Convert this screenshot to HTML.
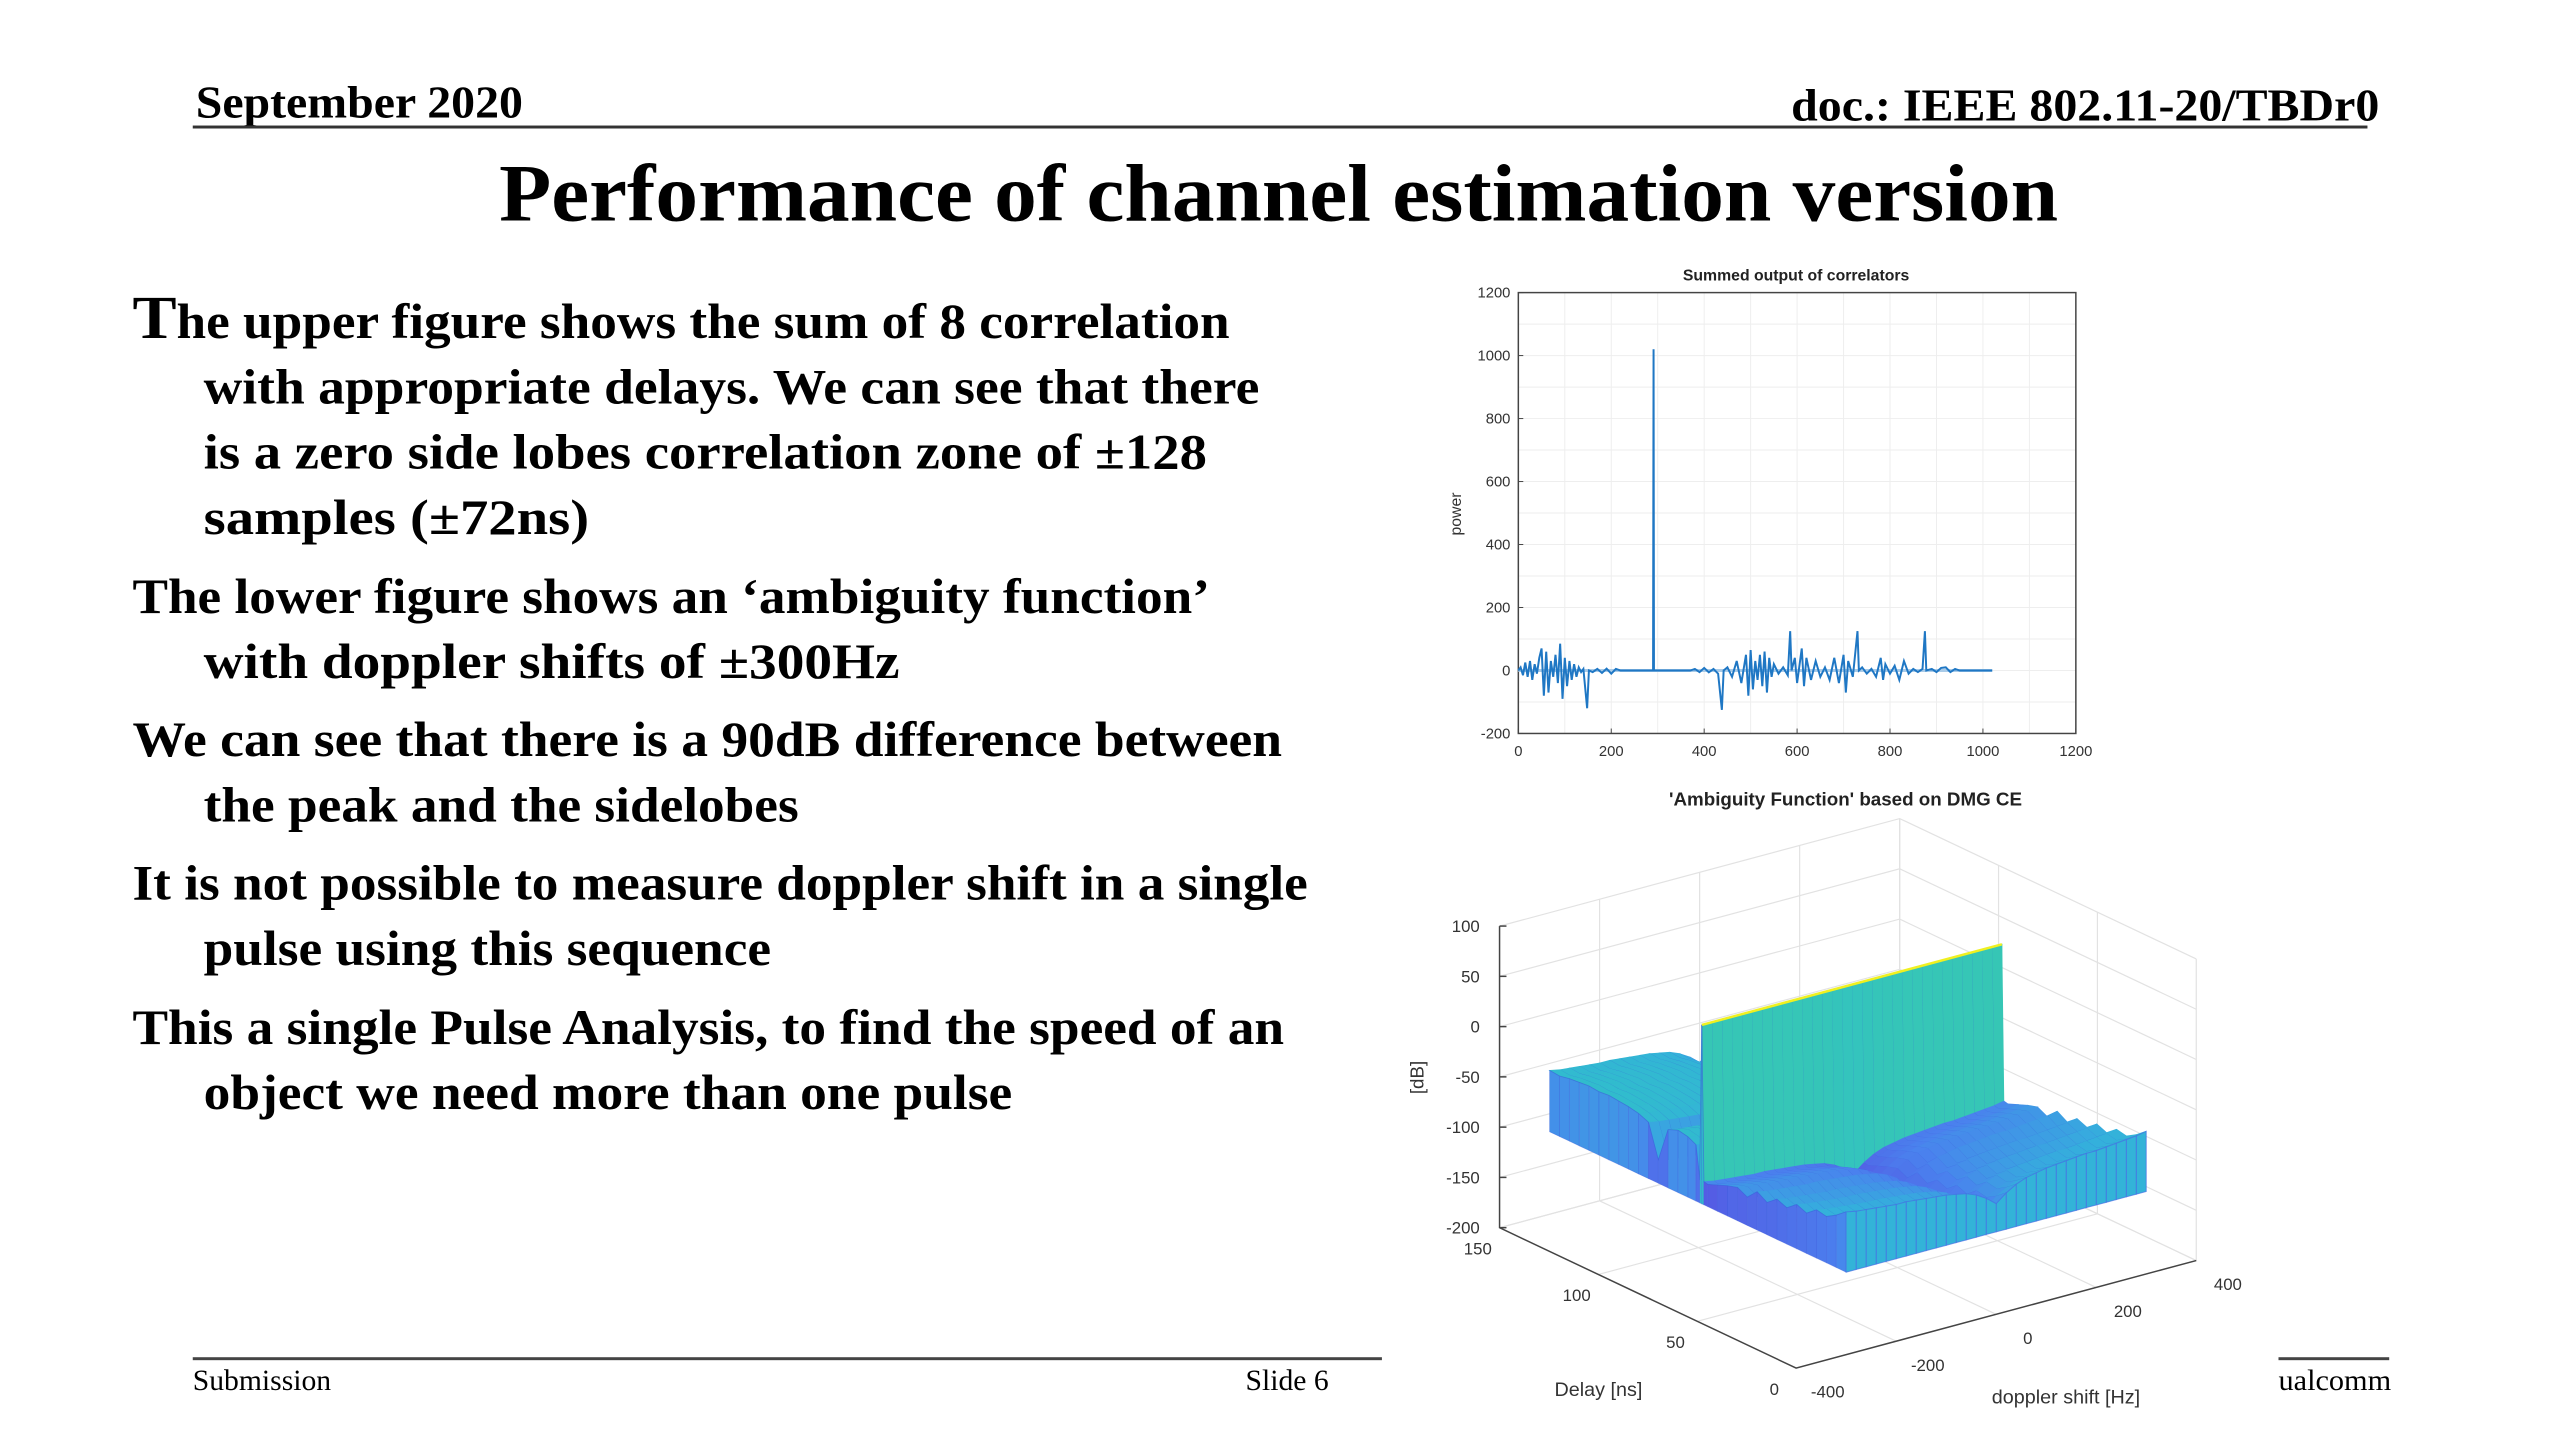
<!DOCTYPE html>
<html><head><meta charset="utf-8"><style>
html,body{margin:0;padding:0;background:#fff;}
svg{display:block;}
.ser{font-family:"Liberation Serif",serif;}
.sans{font-family:"Liberation Sans",sans-serif;}
</style></head><body>
<svg id="page" width="2560" height="1440" viewBox="0 0 2560 1440" xmlns="http://www.w3.org/2000/svg">
<rect width="2560" height="1440" fill="#fff"/>
<g transform="scale(0.9885)">
<g class="ser">
<text x="198" y="119" font-size="46" font-weight="bold" textLength="331" lengthAdjust="spacingAndGlyphs">September 2020</text>
<text x="1812" y="122" font-size="46" font-weight="bold" textLength="595" lengthAdjust="spacingAndGlyphs">doc.: IEEE 802.11-20/TBDr0</text>
<rect x="195" y="127" width="2200" height="3" fill="#333"/>
<text x="505" y="223" font-size="82" font-weight="bold" textLength="1577" lengthAdjust="spacingAndGlyphs">Performance of channel estimation version</text>
</g>
<g class="ser" font-weight="bold" font-size="50">
<text x="134" y="342" textLength="1110" lengthAdjust="spacingAndGlyphs"><tspan font-size="62">T</tspan>he upper figure shows the sum of 8 correlation</text>
<text x="206" y="408" textLength="1068" lengthAdjust="spacingAndGlyphs">with appropriate delays. We can see that there</text>
<text x="206" y="474" textLength="1015" lengthAdjust="spacingAndGlyphs">is a zero side lobes correlation zone of ±128</text>
<text x="206" y="540" textLength="390" lengthAdjust="spacingAndGlyphs">samples (±72ns)</text>
<text x="134" y="620" textLength="1090" lengthAdjust="spacingAndGlyphs">The lower figure shows an ‘ambiguity function’</text>
<text x="206" y="686" textLength="704" lengthAdjust="spacingAndGlyphs">with doppler shifts of ±300Hz</text>
<text x="134" y="765" textLength="1163" lengthAdjust="spacingAndGlyphs">We can see that there is a 90dB difference between</text>
<text x="206" y="831" textLength="602" lengthAdjust="spacingAndGlyphs">the peak and the sidelobes</text>
<text x="134" y="910" textLength="1189" lengthAdjust="spacingAndGlyphs">It is not possible to measure doppler shift in a single</text>
<text x="206" y="976" textLength="574" lengthAdjust="spacingAndGlyphs">pulse using this sequence</text>
<text x="134" y="1056" textLength="1165" lengthAdjust="spacingAndGlyphs">This a single Pulse Analysis, to find the speed of an</text>
<text x="206" y="1122" textLength="818" lengthAdjust="spacingAndGlyphs">object we need more than one pulse</text>
</g>
<g class="ser" font-size="30">
<rect x="195" y="1373" width="1203" height="3" fill="#444"/>
<rect x="2305" y="1373" width="112" height="3" fill="#444"/>
<text x="195" y="1406">Submission</text>
<text x="1260" y="1406">Slide 6</text>
<text x="2305" y="1406" textLength="114" lengthAdjust="spacingAndGlyphs">ualcomm</text>
</g>
<g id="chart1" class="sans"></g>
<g id="chart2" class="sans"></g>
</g>
</svg>
<script>
const NS="http://www.w3.org/2000/svg";
// ---- chart 1 data ----
const corrX=[0,5,10,15,20,25,30,35,40,45,50,55,60,65,70,75,80,85,90,95,100,105,110,115,120,125,130,135,140,148,152,160,170,180,190,200,210,220,290,291,292,370,380,390,400,410,420,430,438,442,450,460,470,480,490,495,500,505,510,515,520,525,530,535,540,545,550,560,570,580,585,588,595,600,610,615,620,630,640,650,660,670,680,690,700,705,710,720,730,733,740,750,760,770,780,785,790,800,810,820,830,840,850,860,870,875,878,890,900,910,920,930,940,950,1020];
const corrY=[0,10,-15,25,-20,30,-30,20,-10,40,70,-80,60,-70,30,-20,50,-40,85,-90,40,-50,30,-30,20,-20,10,-5,5,-120,0,-5,5,-8,6,-10,5,0,0,1020,0,0,5,-5,8,-6,5,-10,-125,0,10,-20,30,-40,50,-80,65,-60,30,-30,50,-50,60,-70,40,-20,20,-10,10,-15,125,0,40,-40,70,-50,40,-30,30,-20,10,-30,40,-40,50,-70,30,-20,125,0,10,-10,5,-20,40,-30,20,-10,15,-30,30,-10,5,-5,5,125,0,5,-5,8,10,-5,5,0,0];
const xTicks1=[0,200,400,600,800,1000,1200];
const yTicks1=[-200,0,200,400,600,800,1000,1200];
// ---- chart 2 data ----
const dopplers=[-300,-280,-260,-240,-220,-200,-180,-160,-140,-120,-100,-80,-60,-40,-20,0,20,40,60,80,100,120,140,160,180,200,220,240,260,280,300];
const dopplerDip=[0,-2,-3,-4,-5,-6,-6,-7,-8,-9,-10,-12,-14,-18,-24,-32,-24,-18,-14,-12,-10,-9,-8,-7,-6,-6,-5,-4,-3,-2,0];
const delays=[0,5,10,15,20,25,30,35,40,45,50,55,60,65,70,72,73,74,76,80,85,90,95,100,105,110,115,120,125,130,135,140,145,150];
const levels=[-58,-66,-72,-70,-78,-74,-82,-78,-86,-80,-90,-85,-88,-92,-96,-95,60,-95,-62,-58,-56,-60,-95,-62,-58,-56,-55,-54,-55,-54,-55,-56,-58,-57];
const zTicks=[100,50,0,-50,-100,-150,-200];
const delayTicks=[150,100,50,0];
const dopTicks=[-400,-200,0,200,400];

function el(tag,attrs,parent){const e=document.createElementNS(NS,tag);for(const k in attrs)e.setAttribute(k,attrs[k]);parent.appendChild(e);return e;}

// chart 1
(function(){
const g=document.getElementById('chart1');
const L=1536,R=2100,T=296,B=742;
const sx=v=>L+v*(R-L)/1200, sy=v=>B-(v+200)*(B-T)/1400;
const grid=el('g',{},g);


for(let v=0;v<=1200;v+=100){el('line',{x1:sx(v),x2:sx(v),y1:T,y2:B,stroke:'#eee','stroke-width':1},grid);}
for(let v=-200;v<=1200;v+=100){el('line',{x1:L,x2:R,y1:sy(v),y2:sy(v),stroke:'#eee','stroke-width':1},grid);}
const box=el('rect',{x:L,y:T,width:R-L,height:B-T,fill:'none',stroke:'#444','stroke-width':1.5},g);


xTicks1.forEach(v=>{const t=el('text',{x:sx(v),y:765,'font-size':15,'text-anchor':'middle',fill:'#333'},g);t.textContent=v;


el('line',{x1:sx(v),x2:sx(v),y1:B,y2:B-5,stroke:'#444'},g);});
yTicks1.forEach(v=>{const t=el('text',{x:1528,y:sy(v)+5,'font-size':15,'text-anchor':'end',fill:'#333'},g);t.textContent=v;


el('line',{x1:L,x2:L+5,y1:sy(v),y2:sy(v),stroke:'#444'},g);});
const ttl=el('text',{x:1817,y:284,'font-size':16,'font-weight':'bold','text-anchor':'middle',fill:'#222'},g);ttl.textContent='Summed output of correlators';


const yl=el('text',{x:0,y:0,'font-size':16,'text-anchor':'middle',fill:'#333',transform:'translate(1478,520) rotate(-90)'},g);yl.textContent='power';


el('line',{x1:sx(0),x2:sx(1020),y1:sy(0),y2:sy(0),stroke:'#a9cbe8','stroke-width':3},g);
let d='';corrX.forEach((x,i)=>{d+=(i?'L':'M')+sx(x).toFixed(1)+' '+sy(corrY[i]).toFixed(1);});
const p=el('path',{d:d,fill:'none',stroke:'#1f77c4','stroke-width':2},g);


})();

// chart 2 (3D)
(function(){
const g=document.getElementById('chart2');
const FX=1817,FY=1384;
const P=(d,t,z)=>[FX+(d+400)*0.506-t*2.0, FY-(d+400)*0.136-t*0.947-(z+200)*1.017];
const pt=a=>a[0].toFixed(1)+','+a[1].toFixed(1);
const gr=el('g',{stroke:'#e2e2e2','stroke-width':1.2,fill:'none'},g);


zTicks.forEach(z=>{el('polyline',{points:[P(-400,150,z),P(400,150,z),P(400,0,z)].map(pt).join(' ')},gr);});
dopTicks.forEach(d=>{el('polyline',{points:[P(d,0,-200),P(d,150,-200),P(d,150,100)].map(pt).join(' ')},gr);});
[0,50,100,150].forEach(t=>{el('polyline',{points:[P(-400,t,-200),P(400,t,-200),P(400,t,100)].map(pt).join(' ')},gr);});
const ax=el('g',{stroke:'#444','stroke-width':1.5},g);


el('polyline',{points:[P(-400,150,100),P(-400,150,-200),P(-400,0,-200),P(400,0,-200)].map(pt).join(' '),fill:'none'},ax);
zTicks.forEach(z=>{const a=P(-400,150,z);el('line',{x1:a[0],x2:a[0]+7,y1:a[1],y2:a[1]},ax);
const t=el('text',{x:1497,y:a[1]+6,'font-size':17,'text-anchor':'end',fill:'#333',stroke:'none'},g);t.textContent=z;

});
delayTicks.forEach(v=>{const a=P(-400,v,-200);const t=el('text',{x:a[0]-22,y:a[1]+27,'font-size':17,'text-anchor':'middle',fill:'#333'},g);t.textContent=v;

});
dopTicks.forEach(v=>{const a=P(v,0,-200);const t=el('text',{x:a[0]+32,y:a[1]+30,'font-size':17,'text-anchor':'middle',fill:'#333'},g);t.textContent=v;

});
const mk=(txt,x,y,fs,name,extra)=>{const t=el('text',Object.assign({x:x,y:y,'font-size':fs,'text-anchor':'middle',fill:'#333'},extra||{}),g);t.textContent=txt;return t;};
mk("'Ambiguity Function' based on DMG CE",1867,815,19,'chart-title',{'font-weight':'bold',fill:'#222'});
mk('Delay [ns]',1617,1412,20,'delay-axis-title');
mk('doppler shift [Hz]',2090,1420,20,'doppler-axis-title');
mk('[dB]',0,0,19,'z-axis-title',{transform:'translate(1440,1090) rotate(-90)'});
const stops=[[-130,[84,92,228]],[-100,[74,130,238]],[-75,[52,176,220]],[-50,[48,192,200]],[-10,[56,200,176]],[30,[110,212,110]],[60,[245,240,32]]];
const col=z=>{if(z<=stops[0][0])return 'rgb('+stops[0][1]+')';for(let i=1;i<stops.length;i++){if(z<=stops[i][0]){const a=stops[i-1],b=stops[i],f=(z-a[0])/(b[0]-a[0]);return 'rgb('+a[1].map((c,k)=>Math.round(c+(b[1][k]-c)*f))+')';}}return 'rgb('+stops[stops.length-1][1]+')';};
const BASE=-118;
const Z=(j,i)=>levels[i]>0?levels[i]:levels[i]+dopplerDip[j];
const surf=el('g',{},g);


const cells=[];
for(let j=0;j<dopplers.length-1;j++)for(let i=0;i<delays.length-1;i++){
  const dc=(dopplers[j]+dopplers[j+1])/2, tc=(delays[i]+delays[i+1])/2;
  cells.push({j:j,i:i,depth:0.61*(dc+400)/800+0.79*tc/150});
}
cells.sort((a,b)=>b.depth-a.depth);
cells.forEach(c=>{
  const j=c.j,i=c.i;
  const z00=Z(j,i),z01=Z(j,i+1),z11=Z(j+1,i+1),z10=Z(j+1,i);
  const q=[P(dopplers[j],delays[i],z00),P(dopplers[j],delays[i+1],z01),P(dopplers[j+1],delays[i+1],z11),P(dopplers[j+1],delays[i],z10)];
  const cz=(z00+z01+z11+z10)/4;
  el('polygon',{points:q.map(pt).join(' '),fill:col(cz),stroke:col(cz),'stroke-width':0.7},surf);
  el('line',{x1:q[0][0],y1:q[0][1],x2:q[1][0],y2:q[1][1],stroke:'rgba(60,90,220,0.5)','stroke-width':1.1},surf);
});
const sk=el('g',{},g);


for(let i=delays.length-2;i>=0;i--){
  const d=dopplers[0];
  const q=[P(d,delays[i],Z(0,i)),P(d,delays[i+1],Z(0,i+1)),P(d,delays[i+1],BASE),P(d,delays[i],BASE)];
  el('polygon',{points:q.map(pt).join(' '),fill:col((Z(0,i)+Z(0,i+1))/2-35),stroke:'rgba(60,90,220,0.4)','stroke-width':0.7},sk);
}
for(let j=dopplers.length-2;j>=0;j--){
  const q=[P(dopplers[j],0,Z(j,0)),P(dopplers[j+1],0,Z(j+1,0)),P(dopplers[j+1],0,BASE),P(dopplers[j],0,BASE)];
  el('polygon',{points:q.map(pt).join(' '),fill:col(-70),stroke:'rgba(70,110,230,0.7)','stroke-width':1},sk);
}
const ri=delays.indexOf(73);
const a=P(dopplers[0],73,levels[ri]),b=P(dopplers[dopplers.length-1],73,levels[ri]);
const rl=el('line',{x1:a[0],y1:a[1],x2:b[0],y2:b[1],stroke:'#f0f020','stroke-width':2.5},surf);


})();
</script>
</body></html>
